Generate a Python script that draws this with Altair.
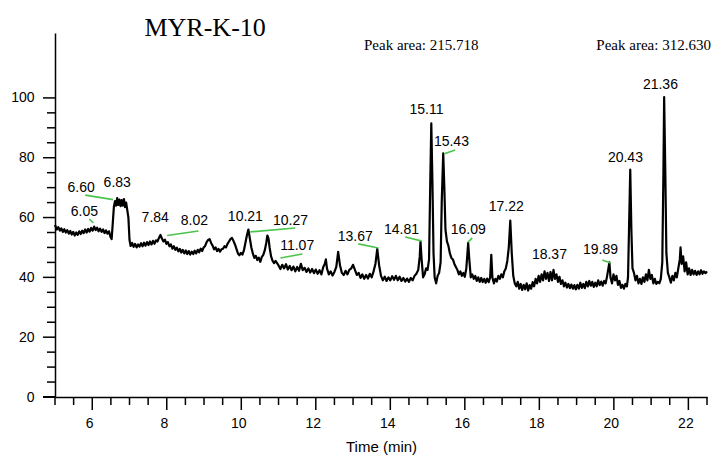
import altair as alt
import pandas as pd

# ---- chromatogram trace (time in min, signal) ----
trace_time = [
    5.00, 5.05, 5.09, 5.13, 5.17, 5.21, 5.25, 5.29, 5.33, 5.37, 5.41, 5.45, 5.49, 5.53, 5.57, 5.61,
    5.65, 5.69, 5.73, 5.77, 5.81, 5.85, 5.89, 5.93, 5.97, 6.01, 6.05, 6.09, 6.13, 6.17, 6.21, 6.25,
    6.29, 6.33, 6.37, 6.41, 6.45, 6.49, 6.52,
    6.55, 6.58, 6.61, 6.64, 6.67, 6.70, 6.73, 6.76, 6.79, 6.82, 6.85, 6.88, 6.91, 6.94, 6.97, 7.00, 7.03,
    7.07, 7.11, 7.15, 7.19, 7.23, 7.27, 7.31, 7.35, 7.39, 7.43, 7.47, 7.51, 7.55, 7.59, 7.63, 7.67,
    7.71, 7.75, 7.79, 7.83, 7.87, 7.91, 7.95, 7.99, 8.03, 8.07, 8.11, 8.15, 8.19, 8.23, 8.27, 8.31,
    8.35, 8.39, 8.43, 8.47, 8.51, 8.55, 8.59, 8.63, 8.67, 8.71, 8.75, 8.79, 8.83, 8.87, 8.91, 8.95,
    8.99, 9.03, 9.07, 9.11, 9.15, 9.19, 9.23, 9.27, 9.31, 9.35, 9.39, 9.43, 9.47,
    9.51, 9.55, 9.59, 9.63, 9.67, 9.71, 9.75, 9.79, 9.83, 9.87, 9.91, 9.95, 9.99, 10.03, 10.07, 10.11,
    10.15, 10.19, 10.23, 10.27, 10.31, 10.35, 10.39, 10.43, 10.47, 10.51, 10.55, 10.59, 10.63, 10.67,
    10.70, 10.73, 10.76, 10.80, 10.84, 10.88, 10.92,
    11.00, 11.05, 11.10, 11.15, 11.20, 11.25, 11.30, 11.35, 11.40, 11.45, 11.50, 11.55, 11.60, 11.65,
    11.70, 11.75, 11.80, 11.85, 11.90, 11.95, 12.00, 12.05, 12.10, 12.15, 12.20, 12.24, 12.27, 12.30,
    12.35, 12.40, 12.45, 12.50, 12.55, 12.60, 12.65, 12.70, 12.75, 12.80, 12.85, 12.90, 12.95, 13.00,
    13.05, 13.10, 13.15, 13.20, 13.25, 13.30, 13.35, 13.40, 13.45, 13.50, 13.55, 13.60, 13.65, 13.70,
    13.75, 13.80, 13.85, 13.90, 13.95, 14.00, 14.05, 14.10, 14.15, 14.20, 14.25, 14.30, 14.35, 14.40,
    14.45, 14.50, 14.55, 14.60, 14.65, 14.70, 14.75, 14.79, 14.81, 14.84, 14.88, 14.92, 14.96, 15.00,
    15.04, 15.07, 15.10, 15.13, 15.16, 15.19, 15.23, 15.27, 15.31, 15.35, 15.38, 15.42, 15.45, 15.48,
    15.52, 15.56, 15.60, 15.64, 15.68, 15.72, 15.76, 15.80, 15.84, 15.88, 15.92, 15.96, 16.00, 16.04,
    16.07, 16.09, 16.12, 16.16, 16.20, 16.24, 16.28, 16.32, 16.36, 16.40, 16.44, 16.48, 16.52, 16.56,
    16.60, 16.64, 16.68, 16.71, 16.74, 16.78, 16.82, 16.86, 16.90, 16.94, 16.98, 17.02, 17.06, 17.10,
    17.14, 17.18, 17.22, 17.26, 17.30, 17.34, 17.38, 17.42, 17.46, 17.50, 17.54, 17.58, 17.62, 17.66,
    17.70, 17.74, 17.78, 17.82, 17.86, 17.90, 17.94, 17.98, 18.02, 18.06, 18.10, 18.14, 18.18, 18.22,
    18.26, 18.30, 18.34, 18.38, 18.42, 18.46, 18.50, 18.54, 18.58, 18.62, 18.66, 18.70, 18.74, 18.78,
    18.82, 18.86, 18.90, 18.94, 18.98, 19.02, 19.06, 19.10, 19.14, 19.18, 19.22, 19.26, 19.30, 19.34,
    19.38, 19.42, 19.46, 19.50, 19.54, 19.58, 19.62, 19.66, 19.70, 19.74, 19.78, 19.82, 19.86, 19.88,
    19.91, 19.95, 19.99, 20.03, 20.07, 20.11, 20.15, 20.19, 20.23, 20.27, 20.31, 20.35, 20.38, 20.41,
    20.44, 20.47, 20.50, 20.54, 20.58, 20.62, 20.66, 20.70, 20.74, 20.78, 20.82, 20.86, 20.90, 20.94,
    20.98, 21.02, 21.06, 21.10, 21.14, 21.18, 21.22, 21.26, 21.30, 21.33, 21.35, 21.38, 21.41, 21.45,
    21.49, 21.53, 21.57, 21.61, 21.65, 21.69, 21.73, 21.77, 21.79, 21.82, 21.86, 21.90, 21.94, 21.98,
    22.02, 22.06, 22.10, 22.14, 22.18, 22.22, 22.26, 22.30, 22.34, 22.38, 22.42, 22.46, 22.50,
]
trace_signal = [
    57.5, 56.0, 56.8, 55.6, 56.4, 55.2, 56.1, 55.0, 55.8, 54.6, 55.5, 54.3, 55.2, 54.0, 55.0, 54.2,
    55.4, 54.5, 55.6, 54.8, 56.0, 55.0, 56.2, 55.3, 56.5, 55.6, 57.0, 55.8, 56.6, 55.4, 56.3, 55.2,
    56.0, 54.8, 55.7, 54.6, 55.4, 53.5, 52.8,
    58.0, 63.5, 65.5, 64.0, 66.5, 64.2, 66.0, 63.8, 65.8, 64.0, 66.2, 63.5, 65.0, 62.5, 60.0, 52.5, 50.5,
    51.5, 50.2, 51.2, 50.0, 51.0, 50.3, 51.4, 50.4, 51.6, 50.6, 51.8, 50.8, 52.0, 51.0, 52.2, 51.2,
    52.4, 52.0, 53.2, 54.2, 53.0, 52.0, 52.6, 51.2, 51.8, 50.4, 51.0, 49.6, 50.4, 49.2, 49.9, 48.7,
    49.5, 48.3, 49.2, 48.0, 49.0, 47.8, 48.8, 47.6, 48.6, 47.8, 48.9, 48.0, 49.2, 48.4, 49.6, 48.8,
    50.0, 50.5, 51.8, 52.5, 52.8, 51.5, 50.6, 49.4, 50.0, 48.8, 49.5, 48.6, 49.4,
    49.6, 50.4, 50.0, 51.2, 52.0, 52.8, 53.2, 52.2, 51.0, 49.5, 48.0, 47.4, 48.2, 47.6, 49.0, 51.5,
    54.0, 56.0, 53.0, 50.0, 48.0, 46.5, 47.2, 45.8, 46.6, 45.2, 46.8, 47.5, 49.0, 51.5,
    54.0, 53.0, 50.0, 47.0, 45.5, 44.8, 45.5,
    44.0, 42.8, 44.2, 43.0, 44.4, 42.6, 43.8, 42.4, 43.6, 42.0, 43.5, 42.2, 44.5, 42.4,
    43.2, 41.8, 43.0, 41.6, 42.8, 41.4, 42.6, 41.2, 42.4, 41.0, 43.5, 44.5, 46.0, 43.0,
    41.0, 42.0, 40.6, 41.8, 43.5, 48.5, 44.0, 41.5, 40.8, 42.2, 41.0, 42.5, 43.0, 44.2,
    42.5, 40.8, 41.5, 39.8, 41.0, 39.5, 40.8, 39.6, 41.2, 40.0, 42.0, 44.5, 49.5, 44.0,
    40.5, 39.0, 40.2, 38.8, 40.0, 39.0, 40.4, 39.2, 40.5, 39.0, 40.2, 38.8, 39.8, 38.6,
    39.6, 38.5, 39.8, 39.0, 40.5, 41.2, 42.5, 47.0, 52.0, 46.0, 40.0, 41.0, 43.0, 42.5,
    46.0, 70.0, 91.5, 72.0, 48.0, 40.0, 38.0, 40.5, 41.5, 45.0, 65.0, 81.5, 70.0, 56.0,
    52.0, 50.5, 48.0, 46.5, 46.0, 44.5, 43.5, 42.5, 41.0, 42.0, 40.5, 41.5, 40.2, 43.0,
    48.0, 51.5, 46.0, 40.0, 41.0, 39.5, 40.5, 38.8, 40.0, 38.5, 39.8, 38.4, 39.5, 38.2,
    39.6, 38.4, 40.0, 47.5, 40.0, 38.0, 39.5, 38.6, 40.5, 39.5, 41.0, 40.0, 42.0, 43.0,
    45.5, 50.0, 59.0, 48.0, 40.5, 38.0, 37.0, 38.5, 36.2, 37.8, 35.8, 37.5, 36.0, 38.0,
    35.6, 37.4, 36.2, 38.4, 37.0, 39.5, 38.0, 40.5, 38.5, 41.0, 39.0, 42.0, 39.5, 41.5,
    38.8, 41.8, 39.0, 42.5, 39.5, 41.0, 38.5, 40.2, 37.8, 39.0, 37.0, 38.2, 36.6, 37.8,
    36.4, 37.6, 36.2, 37.4, 36.0, 37.5, 36.2, 38.2, 36.5, 37.8, 36.4, 38.5, 37.0, 38.8,
    37.2, 38.5, 36.8, 38.2, 37.0, 39.0, 37.4, 38.6, 37.2, 38.8, 38.0, 40.5, 43.5, 45.0,
    40.0, 38.0, 41.0, 39.0, 40.5, 37.5, 38.8, 36.5, 37.5, 36.2, 37.8, 37.0, 40.0, 58.0,
    76.0, 56.0, 43.0, 41.5, 39.0, 40.5, 38.0, 39.5, 37.8, 40.0, 38.5, 41.0, 39.0, 42.5,
    39.5, 40.8, 38.0, 39.5, 37.8, 38.5, 38.0, 39.5, 45.0, 75.0, 100.3, 76.0, 48.0, 41.5,
    40.0, 38.2, 40.5, 39.0, 41.5, 40.0, 43.0, 46.0, 50.0, 44.5, 47.0, 42.0, 45.0, 41.0,
    43.0, 40.8, 42.5, 41.0, 42.2, 40.8, 42.0, 41.0, 42.4, 41.2, 42.0, 41.4, 42.0,
]

# ---- green integration baselines ----
base_t1 = [5.81, 5.92, 8.01, 10.24, 11.05, 13.14, 14.40, 15.45, 16.09, 19.69]
base_t2 = [6.56, 6.03, 8.85, 11.45, 11.64, 13.68, 14.83, 15.74, 16.20, 19.91]
base_v1 = [67.5, 59.5, 54.0, 55.2, 46.5, 51.2, 53.5, 81.3, 51.8, 45.8]
base_v2 = [66.0, 58.2, 55.5, 56.5, 47.8, 49.8, 52.2, 82.6, 53.2, 44.8]

# ---- peak labels ----
peak_labels = ["6.60", "6.83", "6.05", "7.84", "8.02", "10.21", "10.27", "11.07", "13.67",
               "14.81", "15.11", "15.43", "16.09", "17.22", "18.37", "19.89", "20.43", "21.36"]
peak_label_t = [5.70, 6.67, 5.79, 7.69, 8.74, 10.11, 11.32, 11.50, 13.06,
                14.30, 14.97, 15.64, 16.09, 17.11, 18.27, 19.64, 20.31, 21.25]
peak_label_v = [69.9, 71.6, 61.9, 59.9, 58.9, 60.2, 58.9, 50.5, 53.5,
                55.9, 96.0, 85.3, 55.9, 63.5, 47.5, 49.2, 79.9, 104.3]

# ---- annotations ----
area_text = ["Peak area: 215.718", "Peak area: 312.630"]
area_t = [14.83, 19.53]
area_v = [117.7, 117.7]
title_text = "MYR-K-10"

# ---- axis ticks ----
x_major = [6, 8, 10, 12, 14, 16, 18, 20, 22]
x_minor = [5, 5.5, 6.5, 7, 7.5, 8.5, 9, 9.5, 10.5, 11, 11.5, 12.5, 13, 13.5, 14.5, 15, 15.5,
           16.5, 17, 17.5, 18.5, 19, 19.5, 20.5, 21, 21.5, 22.5]
y_major = [0, 20, 40, 60, 80, 100]
y_minor = [5, 10, 15, 25, 30, 35, 45, 50, 55, 65, 70, 75, 85, 90, 95]

trace = pd.DataFrame({"t": trace_time, "v": trace_signal})
bases = pd.DataFrame({"t1": base_t1, "t2": base_t2, "v1": base_v1, "v2": base_v2})
labels = pd.DataFrame({"label": peak_labels, "t": peak_label_t, "v": peak_label_v})
area_c = pd.DataFrame({"label": area_text[:1], "t": area_t[:1], "v": area_v[:1]})
area_l = pd.DataFrame({"label": area_text[1:], "t": area_t[1:], "v": area_v[1:]})
title_df = pd.DataFrame({"label": [title_text], "t": [9.03], "v": [123.4]})
xmaj = pd.DataFrame({"t": x_major})
xmin = pd.DataFrame({"t": x_minor})
ymaj = pd.DataFrame({"v": y_major})
ymin = pd.DataFrame({"v": y_minor})

xscale = alt.Scale(domain=[5, 22.5], nice=False, zero=False)
yscale = alt.Scale(domain=[0, 121.7], nice=False)

AX = dict(
    domainColor="black", domainWidth=1.5, ticks=False, tickSize=0, grid=False,
    labelFont="Liberation Sans", labelFontSize=14, labelColor="black",
)

xaxis = alt.Axis(
    values=x_major, format="d", title="Time (min)", labelPadding=19, labelOffset=-3,
    titleFont="Liberation Sans", titleFontSize=15, titleFontWeight="normal",
    titleColor="black", titlePadding=9, **AX,
)
yaxis = alt.Axis(values=y_major, format="d", title=None, labelPadding=21, **AX)

line = alt.Chart(trace).mark_line(color="black", strokeWidth=2.2, strokeJoin="round").encode(
    x=alt.X("t:Q", scale=xscale, axis=xaxis),
    y=alt.Y("v:Q", scale=yscale, axis=yaxis),
)

green = alt.Chart(bases).mark_rule(color="#4cc44c", strokeWidth=1.6).encode(
    x="t1:Q", x2="t2", y="v1:Q", y2="v2"
)

peak_text = alt.Chart(labels).mark_text(
    font="Liberation Sans", fontSize=14, color="black", baseline="middle", align="center"
).encode(x="t:Q", y="v:Q", text="label:N")

area_center = alt.Chart(area_c).mark_text(
    font="Liberation Serif", fontSize=15, color="black", baseline="middle", align="center"
).encode(x="t:Q", y="v:Q", text="label:N")
area_left = alt.Chart(area_l).mark_text(
    font="Liberation Serif", fontSize=15, color="black", baseline="middle", align="left"
).encode(x="t:Q", y="v:Q", text="label:N")

title_mark = alt.Chart(title_df).mark_text(
    font="Liberation Serif", fontSize=26, color="black", baseline="middle", align="center"
).encode(x="t:Q", y="v:Q", text="label:N")

# axis tick marks (major longer than minor)
xt_major = alt.Chart(xmaj).mark_rule(color="black", strokeWidth=1.5).encode(
    x="t:Q", y=alt.value(364), y2=alt.value(377)
)
xt_minor = alt.Chart(xmin).mark_rule(color="black", strokeWidth=1.5).encode(
    x="t:Q", y=alt.value(364), y2=alt.value(372)
)
yt_major = alt.Chart(ymaj).mark_rule(color="black", strokeWidth=1.5).encode(
    y="v:Q", x=alt.value(-12), x2=alt.value(0)
)
yt_minor = alt.Chart(ymin).mark_rule(color="black", strokeWidth=1.5).encode(
    y="v:Q", x=alt.value(-8), x2=alt.value(0)
)
axis_ext = alt.Chart(xmaj).mark_rule(color="black", strokeWidth=1.5).encode(
    x=alt.value(-12), x2=alt.value(0), y=alt.value(364)
)

chart = alt.layer(
    line, green, peak_text, area_center, area_left, title_mark,
    xt_major, xt_minor, yt_major, yt_minor, axis_ext,
).properties(
    width=652,
    height=364,
    autosize=alt.AutoSizeParams(type="none"),
    padding={"left": 55, "top": 33, "right": 9, "bottom": 63},
    background="white",
).configure_view(stroke=None)

chart.save("out.html", embed_options={"renderer": "svg", "actions": False})
